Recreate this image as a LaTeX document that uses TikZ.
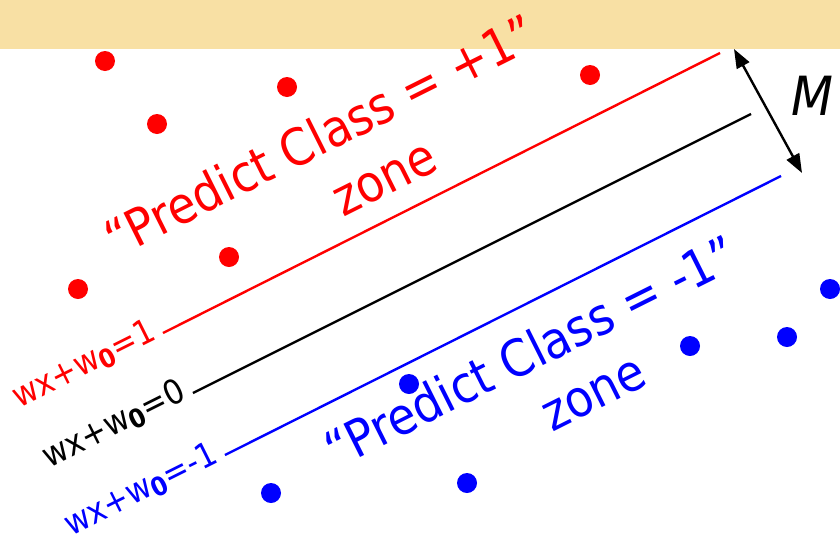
\documentclass[tikz,border=0pt]{standalone}
\usepackage{fontspec}
\setmainfont{DejaVu Sans Condensed}
\usetikzlibrary{arrows.meta}
\definecolor{band}{HTML}{F8E0A4}
\definecolor{pred}{HTML}{FF0000}
\definecolor{pblue}{HTML}{0000FF}
\newcommand\wsub{\raisebox{-0.12em}{\fontsize{26}{26}\selectfont\bfseries 0}}
\tikzset{
  dotstyle/.style={circle,inner sep=0pt,minimum size=20pt,draw=none},
  reddot/.style={dotstyle,fill=pred},
  bluedot/.style={dotstyle,fill=pblue},
  boundary/.style={line width=2.4pt},
  zonetext/.style={inner sep=0pt,rotate=26.57,anchor=base,font=\fontsize{51}{60}\selectfont},
  eqlabel/.style={inner sep=0pt,rotate=26.57,anchor=base east,font=\fontsize{34}{40}\selectfont},
  marginarrow/.style={line width=2.4pt,{Triangle[length=19pt,width=14pt]}-{Triangle[length=19pt,width=14pt]}}
}
\begin{document}
\begin{tikzpicture}[x=1pt,y=-1pt]
\useasboundingbox (0,0) rectangle (840,552);
\fill[band] (0,0) rectangle (840,49);
% red points
\node[reddot] (r1) at (105,61) {};
\node[reddot] (r2) at (287,87) {};
\node[reddot] (r3) at (157,124) {};
\node[reddot] (r4) at (590,75) {};
\node[reddot] (r5) at (229,257) {};
\node[reddot] (r6) at (78,289) {};
% blue points
\node[bluedot] (b1) at (830,289) {};
\node[bluedot] (b2) at (787,337) {};
\node[bluedot] (b3) at (690,346) {};
\node[bluedot] (b4) at (409,384) {};
\node[bluedot] (b5) at (271,493) {};
\node[bluedot] (b6) at (467,483) {};
% boundary lines
\coordinate (rs) at (163,333); \coordinate (re) at (720,53);
\coordinate (ks) at (193,393); \coordinate (ke) at (751,114);
\coordinate (bs) at (225,455); \coordinate (be) at (781,176);
\draw[boundary,pred] (rs) -- (re);
\draw[boundary,black] (ks) -- (ke);
\draw[boundary,pblue] (bs) -- (be);
% line labels
\node[eqlabel,text=pred] (lr) at (158,339) {wx+w\wsub=1};
\node[eqlabel,text=black] (lk) at (188,399) {wx+w\wsub=0};
\node[eqlabel,text=pblue] (lb) at (220,462) {wx+w\wsub=-1};
% zone texts
\node[zonetext,text=pred] (zr1) at (329,152) {“Predict Class = +1”};
\node[zonetext,text=pred] (zr2) at (392,193) {zone};
\node[zonetext,text=pblue] (zb1) at (539,368) {“Predict Class = -1”};
\node[zonetext,text=pblue] (zb2) at (601,408) {zone};
% margin arrow
\coordinate (m1) at (734,49); \coordinate (m2) at (802,173);
\draw[marginarrow] (m1) -- (m2);
\node[inner sep=0pt,font=\fontsize{54}{60}\selectfont\itshape] (mlab) at (812,96) {M};
\end{tikzpicture}
\end{document}
